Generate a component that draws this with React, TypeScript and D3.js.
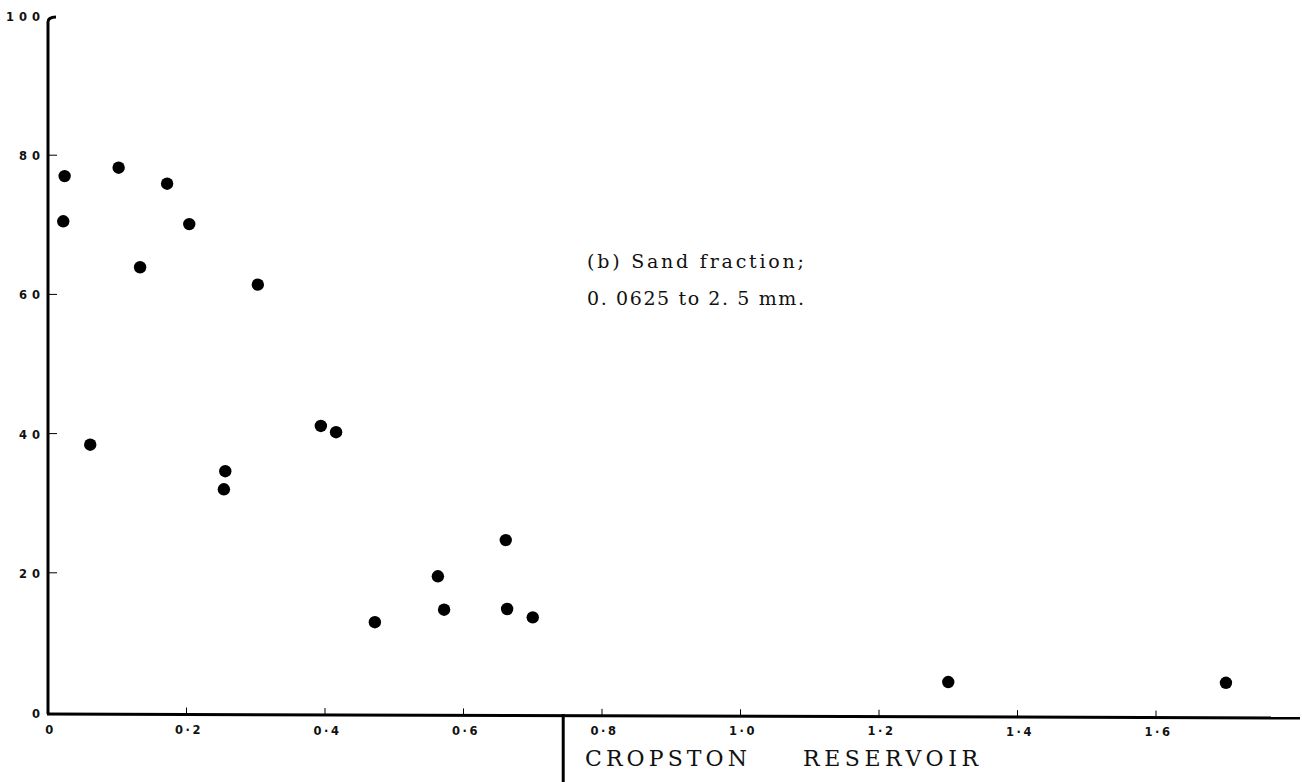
import React from "react"
import * as d3 from "d3"

// distance values (x) and sand fraction percentages (y)
const distance = [0.024, 0.022, 0.102, 0.133, 0.172, 0.204, 0.303, 0.061, 0.256, 0.254,
  0.394, 0.416, 0.472, 0.563, 0.572, 0.661, 0.663, 0.700, 1.300, 1.701]
const sandPct = [77.0, 70.5, 78.2, 63.9, 75.9, 70.1, 61.4, 38.4, 34.6, 32.0,
  41.1, 40.2, 12.9, 19.5, 14.7, 24.7, 14.8, 13.6, 4.3, 4.2]

const xTicks = [0, 0.2, 0.4, 0.6, 0.8, 1.0, 1.2, 1.4, 1.6]
const xTickLabels = ["0", "0·2", "0·4", "0·6", "0·8", "1·0", "1·2", "1·4", "1·6"]
const yTicks = [0, 20, 40, 60, 80, 100]
const yTickLabels = ["0", "20", "40", "60", "80", "100"]

const reservoirEdge = 0.744 // vertical divider under the axis
const annotation = ["(b)  Sand fraction;", "0. 0625 to 2. 5  mm."]

export default function App() {
  const width = 1302
  const height = 782

  const x = d3.scaleLinear().domain([0, 0.2]).range([48, 186.5])
  const y = d3.scaleLinear().domain([0, 100]).range([712, 16])

  const xEnd = 1300
  const label = { fontFamily: "'DejaVu Sans', sans-serif", fontWeight: 700, fontSize: 11.5, fill: "#111" }
  const serif = { fontFamily: "'DejaVu Serif', serif", fill: "#111" }

  return (
    <svg width={width} height={height} style={{ position: "absolute", left: 0, top: 0, background: "#fff" }}>
      {/* y axis with the small hook at the top */}
      <path d={`M${x(0)},${y(0) + 2} L${x(0)},${y(100) + 6} Q${x(0)},${y(100) + 1} ${x(0) + 8},${y(100) + 1}`}
        fill="none" stroke="#000" strokeWidth={3} />
      {/* x axis */}
      <line x1={x(0) - 1} y1={y(0) + 2} x2={xEnd} y2={y(0) + 6} stroke="#000" strokeWidth={3} />

      {yTicks.slice(1, -1).map((t) => (
        <line key={"yt" + t} x1={x(0)} x2={x(0) + 9} y1={y(t)} y2={y(t)} stroke="#000" strokeWidth={1} />
      ))}
      {yTicks.map((t, i) => (
        <text key={"yl" + t} x={45} y={y(t) + (i === 0 ? 6 : 5)} textAnchor="end"
          style={{ ...label, letterSpacing: "5px" }}>
          {yTickLabels[i]}
        </text>
      ))}

      {xTicks.slice(1).map((t) => (
        <line key={"xt" + t} x1={x(t)} x2={x(t)} y1={y(0) + 2 + (x(t) / xEnd) * 4} y2={y(0) - 5 + (x(t) / xEnd) * 4}
          stroke="#000" strokeWidth={1} />
      ))}
      {xTicks.map((t, i) => (
        <text key={"xl" + t} x={x(t) + 2.5} y={y(0) + 22 + (x(t) / xEnd) * 2} textAnchor="middle"
          style={{ ...label, letterSpacing: "2.5px" }}>
          {xTickLabels[i]}
        </text>
      ))}

      {/* divider and reservoir name */}
      <line x1={x(reservoirEdge)} x2={x(reservoirEdge)} y1={y(0) + 2} y2={height} stroke="#000" strokeWidth={3} />
      <text x={585} y={766} textLength={162} lengthAdjust="spacing" style={{ ...serif, fontSize: 22 }}>CROPSTON</text>
      <text x={803} y={766} textLength={175} lengthAdjust="spacing" style={{ ...serif, fontSize: 22 }}>RESERVOIR</text>

      {annotation.map((s, i) => (
        <text key={s} x={587} y={268 + i * 37} textLength={217} lengthAdjust="spacing"
          style={{ ...serif, fontSize: 19 }}>{s}</text>
      ))}

      {distance.map((d, i) => (
        <circle key={i} cx={x(d)} cy={y(sandPct[i])} r={6.2} fill="#000" />
      ))}
    </svg>
  )
}
